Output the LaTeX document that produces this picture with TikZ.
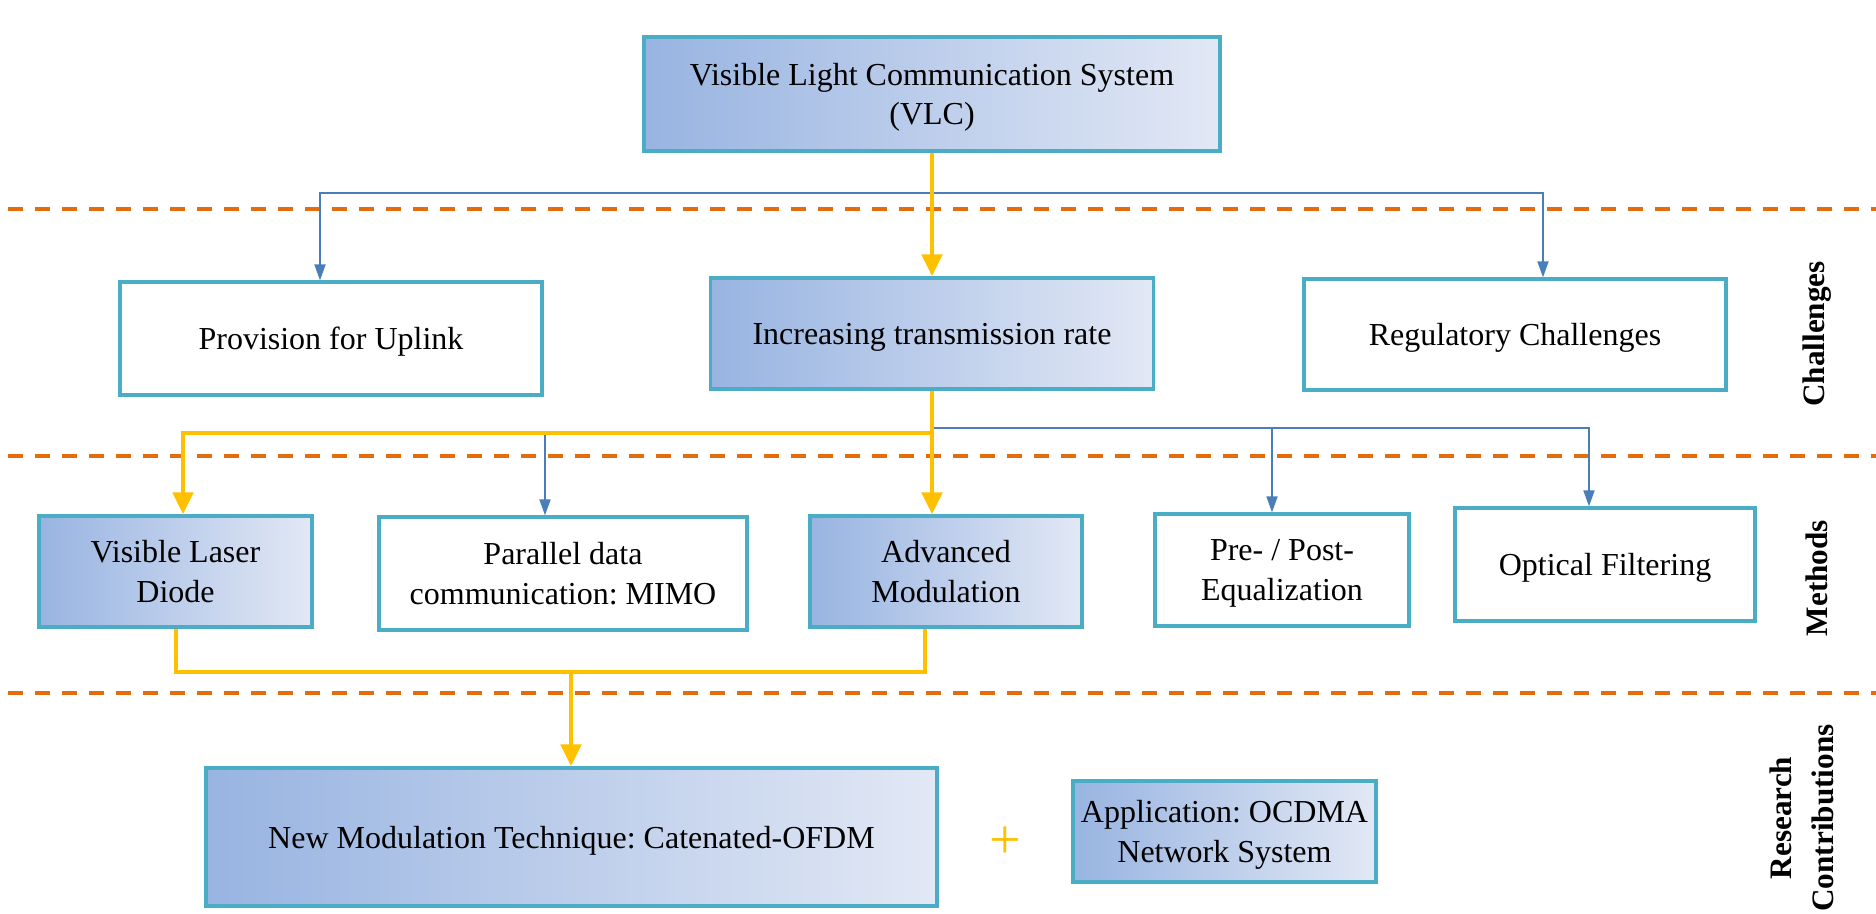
\documentclass[tikz,border=0pt]{standalone}
\usepackage{fontspec}
\setmainfont{Liberation Serif}
\usetikzlibrary{arrows.meta}
\frenchspacing

\definecolor{boxedge}{RGB}{75,172,198}
\definecolor{shadeL}{RGB}{152,180,225}
\definecolor{shadeR}{RGB}{226,232,245}
\definecolor{linkblue}{RGB}{74,126,187}
\definecolor{gold}{RGB}{255,192,0}
\definecolor{sep}{RGB}{228,108,10}

\tikzset{
  btip/.tip={Triangle[width=5.5pt,length=8pt]},
  gtip/.tip={Triangle[width=10pt,length=11pt]},
  card/.style={draw=boxedge, line width=1.6pt, align=center, inner sep=2pt,
               text depth=0pt, font=\fontsize{16}{19.75}\selectfont},
  plain/.style={card, fill=white},
  shaded/.style={card, left color=shadeL, right color=shadeR},
  bluelink/.style={draw=linkblue, line width=0.9pt},
  goldlink/.style={draw=gold, line width=2.4pt, line join=miter},
  divider/.style={draw=sep, line width=1.6pt, dash pattern=on 7.5pt off 6pt},
  side/.style={rotate=90, align=center, font=\bfseries\fontsize{15.6}{21}\selectfont},
}

\begin{document}
\begin{tikzpicture}[x=0.5pt,y=-0.5pt]
\useasboundingbox (0,0) rectangle (1876,914);

% boxes
\node[shaded, minimum width=288pt, minimum height=57pt] (vlc) at (932,94)
  {Visible Light Communication System\\(VLC)};

\node[plain,  minimum width=211pt, minimum height=56.5pt] (prov) at (331,338.5) {Provision for Uplink};
\node[shaded, minimum width=221.5pt, minimum height=55.5pt] (inc) at (932,333.5) {Increasing transmission rate};
\node[plain,  minimum width=211pt, minimum height=55.5pt] (reg) at (1515,334.5) {Regulatory Challenges};

\node[shaded, minimum width=136.5pt, minimum height=55.5pt] (vld) at (175.5,571.5) {Visible Laser\\Diode};
\node[plain,  minimum width=184pt, minimum height=56.5pt] (par) at (563,573.5) {Parallel data\\communication: MIMO};
\node[shaded, minimum width=136pt, minimum height=55.5pt] (adv) at (946,571.5) {Advanced\\Modulation};
\node[plain,  minimum width=127pt, minimum height=56pt] (pre) at (1282,570) {Pre- / Post-\\Equalization};
\node[plain,  minimum width=150pt, minimum height=56.5pt] (opt) at (1605,564.5) {Optical Filtering};

\node[shaded, minimum width=365.5pt, minimum height=69pt] (nm) at (571.5,837)
  {New Modulation Technique: Catenated-OFDM};
\node[shaded, minimum width=151.5pt, minimum height=50.5pt] (app) at (1224.5,831.5)
  {Application: OCDMA\\Network System};
\node[text=gold, font=\fontsize{28}{28}\selectfont] (plus) at (1005,843) {+};

% row labels
\node[side] (lch) at (1817,334) {Challenges};
\node[side] (lme) at (1817,578) {Methods};
\node[side] (lrc) at (1802,818) {Research\\Contributions};

% section dividers
\draw[divider] (8,209) -- (1876,209);
\draw[divider] (8,456) -- (1876,456);
\draw[divider] (8,693) -- (1876,693);

% blue branches
\coordinate (bl) at (320,193);
\coordinate (br) at (1543,193);
\draw[bluelink, btip-btip] (bl |- prov.north) -- (bl) -- (br) -- (br |- reg.north);

\coordinate (pj) at (545,433);
\draw[bluelink, -btip] (pj) -- (pj |- par.north);

\coordinate (mj) at (932,428);
\coordinate (qj) at (1272,428);
\coordinate (oj) at (1589,428);
\draw[bluelink, -btip] (mj) -- (oj) -- (oj |- opt.north);
\draw[bluelink, -btip] (qj) -- (qj |- pre.north);

% highlighted path
\draw[goldlink, -gtip] (vlc.south) -- (inc.north);

\coordinate (gj) at (932,433);
\coordinate (gl) at (183,433);
\draw[goldlink, -gtip] (inc.south) -- (gj |- adv.north);
\draw[goldlink, -gtip] (gj) -- (gl) -- (gl |- vld.north);

\coordinate (ll) at (176,672);
\coordinate (lr) at (925,672);
\coordinate (lm) at (571,672);
\draw[goldlink] (vld.south -| ll) -- (ll) -- (lr) -- (adv.south -| lr);
\draw[goldlink, -gtip] (lm) -- (lm |- nm.north);
\end{tikzpicture}
\end{document}
